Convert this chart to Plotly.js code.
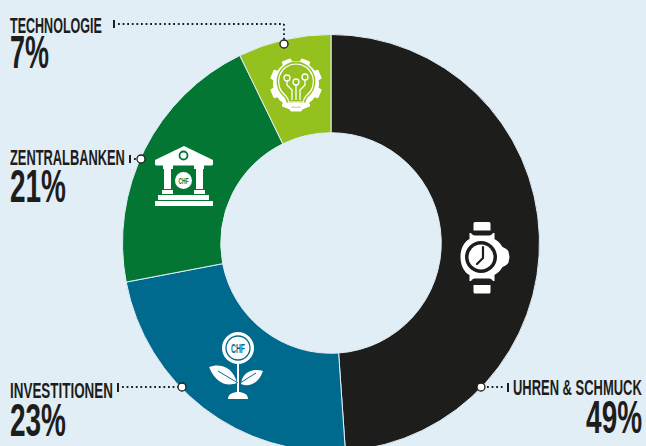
<!DOCTYPE html>
<html><head><meta charset="utf-8">
<script src="https://cdn.plot.ly/plotly-3.0.1.min.js"></script>
<style>html,body{margin:0;padding:0;width:646px;height:446px;overflow:hidden;background:#e2eef6}</style>
</head><body><div id="chart"></div>
<script>
const categories = ['UHREN & SCHMUCK','INVESTITIONEN','ZENTRALBANKEN','TECHNOLOGIE'];
const shares = [48.9,23.1,20.8,7.2];
const sliceColors = ['#1d1d1b','#006a8e','#047634','#95c11f'];
const bg = '#e2eef6', ink = '#1d1d1b';

const W = 646, H = 486;
const px = x => x / W, py = y => 1 - y / H;
const FONT = '"Liberation Sans",sans-serif';
const pct = i => Math.round(shares[i]) + '%';

// text layout: [text, x, y centre, size, target width, align]
const labelLayout = [
  [categories[3],9,25,22,92,'left'],[pct(3),9,51,47,39,'left'],
  [categories[2],9,157,22,115,'left'],[pct(2),9,185.5,47,56,'left'],
  [categories[1],9,390,22,103,'left'],[pct(1),9,419,47,56,'left'],
  [categories[0],643,387,22,129,'right'],[pct(0),643,416,47,56,'right']
];
const annotations = labelLayout.map(([t,x,y,s,w,a]) => ({
  text:t, xref:'paper', yref:'paper', x:px(x), y:py(y), xanchor:a, yanchor:'middle', align:a,
  showarrow:false, borderpad:0, font:{family:FONT,size:s,color:ink,weight:700}
}));

function dotted(x0,y0,x1,y1){return {type:'line',xref:'paper',yref:'paper',x0:px(x0),y0:py(y0),x1:px(x1),y1:py(y1),line:{color:ink,width:1.8,dash:'1.8px,2.8px'}};}
function tick(x,y0,y1){return {type:'line',xref:'paper',yref:'paper',x0:px(x),y0:py(y0),x1:px(x),y1:py(y1),line:{color:ink,width:2}};}
function dot(x,y){const r=4;return {type:'circle',xref:'paper',yref:'paper',x0:px(x-r),x1:px(x+r),y0:py(y-r),y1:py(y+r),fillcolor:'#fff',line:{color:ink,width:1.3}};}
const shapes = [
  tick(114,20,28),dotted(118,24,284,24),dotted(284,24,284,40),dot(284,44),
  tick(130,155,163),dotted(134,159,137,159),dot(141,159),
  tick(118,383,392),dotted(122,387,178,387),dot(182,387),
  tick(508,383,392),dotted(487,387,505,387),dot(481,387)
];

function svg(x,y,w,h,body){
  const s = `<svg xmlns="http://www.w3.org/2000/svg" width="${w*3}" height="${h*3}" viewBox="${x} ${y} ${w} ${h}">${body}</svg>`;
  return {source:'data:image/svg+xml;charset=utf-8,'+encodeURIComponent(s),xref:'paper',yref:'paper',x:px(x),y:py(y),sizex:w/W,sizey:h/H,sizing:'stretch',xanchor:'left',yanchor:'top',layer:'above'};
}
let teeth='';
for(let i=0;i<8;i++){teeth+=`<rect x="291" y="58" width="10" height="8" rx="1.500" fill="#fff" transform="rotate(${i*45+22.5} 296 84)"/>`;}
const lime='#95c11f', green='#047634', blue='#006a8e';
const bulb = teeth+`<circle cx="296" cy="84" r="23" fill="#fff"/>
<path d="M296 61.500a20 20 0 0 1 12 35.500c-2 2-2.500 4-2.500 7h-19c0-3-.5-5-2.500-7A20 20 0 0 1 296 61.500z" fill="${lime}"/>
<path d="M296 64a17.500 17.500 0 0 1 10.500 31.500c-2 2-3 4-3.200 6.500h-14.600c-.2-2.500-1.200-4.500-3.200-6.500A17.500 17.500 0 0 1 296 64z" fill="none" stroke="#fff" stroke-width="1.200"/>
<g fill="none" stroke="#fff" stroke-width="1.300"><circle cx="287" cy="78" r="3"/><circle cx="296" cy="82" r="3"/><circle cx="305" cy="77" r="3"/>
<path d="M287 81v4l5 5v10M296 85v15M305 80v5l-5 5v10"/></g>
<rect x="285" y="102.500" width="22" height="3.500" rx="1.700" fill="#fff"/><path d="M288 107.500h16l-3 4h-10z" fill="#fff"/>`;

const chf = (x,y,w,s,c) => `<text x="${x}" y="${y}" text-anchor="middle" textLength="${w}" lengthAdjust="spacingAndGlyphs" font-family="Liberation Sans,sans-serif" font-weight="700" font-size="${s}" fill="${c}">CHF</text>`;

const bank = `<path d="M184 146l29 14v4a1.500 1.500 0 0 1-1.500 1.500h-55a1.500 1.500 0 0 1-1.500-1.500v-4z" fill="#fff"/>
<circle cx="183.500" cy="155.500" r="4" fill="none" stroke="${green}" stroke-width="1.800"/>
<g fill="#fff"><rect x="163" y="165" width="10" height="4"/><rect x="164" y="169" width="7" height="20"/><rect x="162" y="190" width="11" height="4"/>
<rect x="194" y="165" width="10" height="4"/><rect x="196" y="169" width="7" height="20"/><rect x="194" y="190" width="11" height="4"/>
<rect x="158" y="195" width="51" height="5"/><rect x="155" y="201" width="58" height="5"/><circle cx="183.500" cy="180.500" r="8.500"/></g>
${chf(183.5,184,10,9,green)}`;

const plant = `<circle cx="238" cy="348" r="16" fill="#fff"/><circle cx="238" cy="348" r="12" fill="none" stroke="${blue}" stroke-width="1.300"/>
${chf(238,352.5,14,12.5,blue)}
<rect x="237" y="363" width="2" height="30" fill="#fff"/>
<path d="M209 367c10-4 24-1 28 16-8 3-20 3-28-16z" fill="#fff"/><path d="M263 371c-8-3-21 0-22 13 7 3 17 1 22-13z" fill="#fff"/>
<path d="M218 371l20 12M256 373l-16 10" stroke="${blue}" stroke-width="1" fill="none"/>
<path d="M228 399c0-5 5-7 10-7s10 2 10 7z" fill="#fff"/>`;

const watch = `<path d="M475 222h14a1.500 1.500 0 0 1 1.500 1.500v7h-17v-7a1.500 1.500 0 0 1 1.500-1.500zM473.500 285h17v7a1.500 1.500 0 0 1-1.500 1.500h-14a1.500 1.500 0 0 1-1.500-1.500z" fill="#fff"/>
<path d="M471 233c1 2 3 2.500 5 2.500h12c2 0 4-.5 5-2.500h1.500v6c3 1.500 6 4.500 8 8 2 .5 5 2.500 6 4.500l1 5.500-1 5.500c-1 2-4 4-6 4.500-2 3.500-5 6.500-8 8v6H493c-1-2-3-2.500-5-2.500h-12c-2 0-4 .5-5 2.500h-1.500v-6c-5-2.500-9-9-9-18s4-15.500 9-18v-6z" fill="#fff"/>
<circle cx="481" cy="257" r="16" fill="${ink}"/><circle cx="481" cy="257" r="12.500" fill="#fff"/>
<path d="M483 247v11l-6 6" fill="none" stroke="${ink}" stroke-width="2.200" stroke-linecap="round" stroke-linejoin="round"/>`;

const images = [svg(262,50,68,68,bulb),svg(150,140,70,70,bank),svg(202,328,70,76,plant),svg(450,218,66,80,watch)];

const R = 208.5, cx = 331, cy = 243;
const trace = {
  type:'pie', labels:categories, values:shares, sort:false, direction:'clockwise', rotation:0,
  hole:110/208, textinfo:'none', hoverinfo:'skip', showlegend:false,
  marker:{colors:sliceColors,line:{color:bg,width:1}},
  domain:{x:[(cx-R)/W,(cx+R)/W],y:[1-(cy+R)/H,1-(cy-R)/H]}
};
Plotly.newPlot('chart',[trace],{
  width:W,height:H,margin:{l:0,r:0,t:0,b:0},paper_bgcolor:bg,plot_bgcolor:bg,
  showlegend:false,annotations,shapes,images
},{displayModeBar:false,staticPlot:true}).then(()=>{
  document.querySelectorAll('.annotation-text-g text, .annotation text').forEach(t=>{
    const l = labelLayout.find(v=>v[0]===t.textContent);
    if(l && !t.dataset.squeezed){
      t.dataset.squeezed = '1';
      const b = t.getBBox();
      const k = l[4] / b.width;
      const ax = l[5]==='left' ? b.x : b.x + b.width;
      t.setAttribute('transform',`translate(${ax} 0) scale(${k} 1) translate(${-ax} 0)`);
    }
  });
});
</script></body></html>
